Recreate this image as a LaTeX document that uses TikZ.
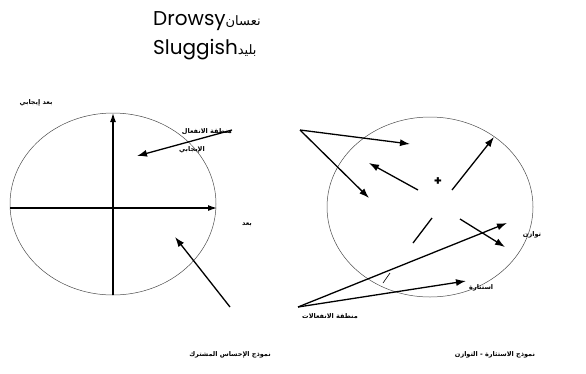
\documentclass[tikz,border=0pt]{standalone}
\usepackage{fontspec}
\setmainfont{Poppins}
\newfontfamily\arabicfont[Script=Arabic]{DejaVu Sans}
\TeXXeTstate=1
\usetikzlibrary{arrows.meta}
\newcommand{\ar}[1]{{\arabicfont\beginR #1\endR}}

\begin{document}
\begin{tikzpicture}[x=1pt, y=-1pt,
  ring/.style={draw=black!70, line width=0.5pt},
  axis/.style={line width=1.2pt, -{Latex[length=9pt,width=6pt]}},
  arr/.style={line width=1.3pt, -{Latex[length=10pt,width=7pt]}},
  lbl/.style={font=\fontsize{6.5}{7}\selectfont\bfseries, inner sep=1pt},
  head/.style={font=\fontsize{20}{22}\selectfont, inner sep=0pt, anchor=west},
]
\useasboundingbox (0,0) rectangle (586,373);

% title
\node[head] (drowsy) at (153,21) {Drowsy\ar{\fontsize{13}{14}\selectfont نعسان}};
\node[head] (slug) at (153,50) {Sluggish\ar{\fontsize{13}{14}\selectfont بليد}};

% left model
\draw[ring] (113,204) ellipse [x radius=103, y radius=91];
\coordinate (vbot) at (113,295);
\coordinate (vtop) at (113,113);
\coordinate (hleft) at (10,208);
\coordinate (hright) at (217,208);
\draw[axis] (vbot) -- (vtop);
\draw[axis] (hleft) -- (hright);

\node[lbl] (pos) at (36,103) {\ar{بعد إيجابي}};
\node[lbl, anchor=east] (zone1) at (233,132) {\ar{منطقة الانفعال}};
\node[lbl, anchor=east] (zone1b) at (206,150) {\ar{الإيجابي}};
\node[lbl] (neg) at (247,225) {\ar{بعد}};

\coordinate (pa1) at (232,130);
\coordinate (pa2) at (137,156);
\coordinate (pb1) at (230,307);
\coordinate (pb2) at (175,237);
\draw[arr] (pa1) -- (pa2);
\draw[arr] (pb1) -- (pb2);

% right model
\draw[ring] (430,207) ellipse [x radius=103, y radius=90];
\node[font=\fontsize{13}{13}\selectfont\bfseries, inner sep=0pt] (plus) at (438,182) {+};

\coordinate (src1) at (300,130);
\coordinate (t1) at (410,144);
\coordinate (t2) at (369,198);
\coordinate (c1) at (418,190);
\coordinate (t3) at (369,163);
\coordinate (c2) at (452,190);
\coordinate (t4) at (494,137);
\coordinate (c3) at (460,219);
\coordinate (t5) at (505,247);
\coordinate (m1) at (432,218);
\coordinate (m2) at (413,243);
\coordinate (src2) at (298,307);
\coordinate (t6) at (507,223);
\coordinate (t7) at (466,281);
\coordinate (k1) at (390,273);
\coordinate (k2) at (383,283);

\draw[arr] (src1) -- (t1);
\draw[arr] (src1) -- (t2);
\draw[arr] (c1) -- (t3);
\draw[arr] (c2) -- (t4);
\draw[arr] (c3) -- (t5);
\draw[line width=1.3pt] (m1) -- (m2);
\draw[arr] (src2) -- (t6);
\draw[arr] (src2) -- (t7);
\draw[line width=0.6pt] (k1) -- (k2);

\node[lbl] (val) at (532,235) {\ar{توازن}};
\node[lbl, anchor=west] (aro) at (468,288) {\ar{استثارة}};
\node[lbl] (zone2) at (330,316) {\ar{منطقة الانفعالات}};

% model names
\node[lbl] (name1) at (230,355) {\ar{نموذج الإحساس المشترك}};
\node[lbl] (name2) at (495,355) {\ar{نموذج الاستثارة - التوازن}};
\end{tikzpicture}
\end{document}
